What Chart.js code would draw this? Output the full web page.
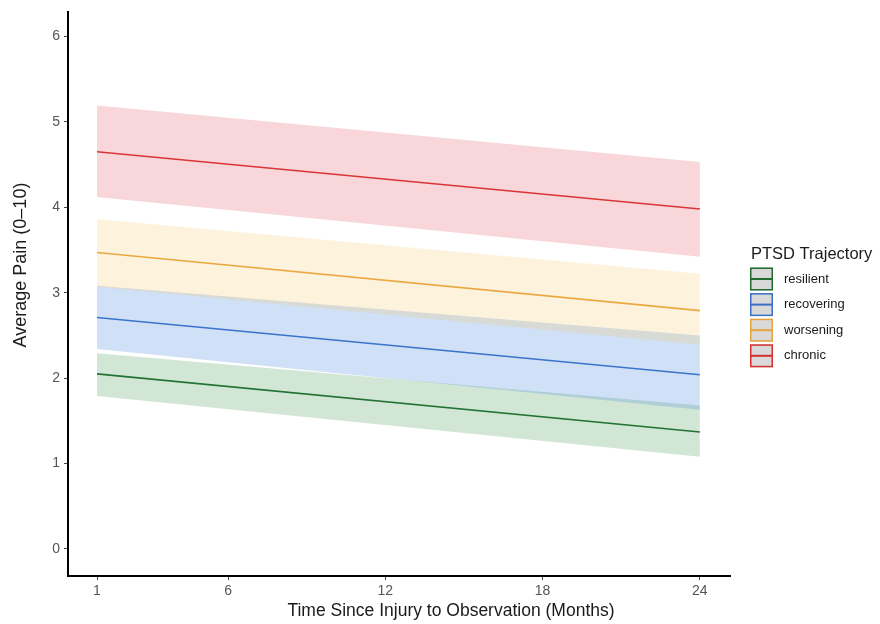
<!DOCTYPE html>
<html>
<head>
<meta charset="utf-8">
<script src="https://cdn.jsdelivr.net/npm/chart.js@4.4.1/dist/chart.umd.min.js"></script>
<style>
  html, body { margin: 0; padding: 0; background: #fff; }
  #wrap { width: 880px; height: 624px; }
</style>
</head>
<body>
<div id="wrap"><canvas id="painChart" width="880" height="624"></canvas></div>
<script>
// months where the fitted lines start and end
const months = [1, 24];
const xTicks = [1, 6, 12, 18, 24];
const yTicks = [0, 1, 2, 3, 4, 5, 6];

// fitted average pain and confidence band per trajectory
const groups = ['resilient', 'recovering', 'worsening', 'chronic'];
const fitValues = {
    resilient:  [2.05, 1.37],
    recovering: [2.71, 2.04],
    worsening:  [3.47, 2.79],
    chronic:    [4.65, 3.98]
};
const lowerValues = {
    resilient:  [1.79, 1.08],
    recovering: [2.34, 1.63],
    worsening:  [3.07, 2.39],
    chronic:    [4.12, 3.42]
};
const upperValues = {
    resilient:  [2.29, 1.68],
    recovering: [3.08, 2.50],
    worsening:  [3.86, 3.22],
    chronic:    [5.19, 4.53]
};

const lineColors = {
    resilient:  '#1f6b30',
    recovering: '#3a6fc4',
    worsening:  '#e8a33d',
    chronic:    '#d62e2e'
};
const bandColors = {
    resilient:  'rgba(50, 140, 70, 0.22)',
    recovering: 'rgba(60, 130, 220, 0.24)',
    worsening:  'rgba(245, 190, 80, 0.2)',
    chronic:    'rgba(231, 76, 90, 0.23)'
};

const toPoints = vals => months.map((m, i) => ({ x: m, y: vals[i] }));

// build datasets: upper edge, lower edge filled to upper, then fitted line
const datasets = [];
['chronic', 'worsening', 'recovering', 'resilient'].forEach(g => {
    datasets.push({
        label: g + ' upper',
        data: toPoints(upperValues[g]),
        borderWidth: 0,
        pointRadius: 0,
        fill: false
    });
    datasets.push({
        label: g + ' lower',
        data: toPoints(lowerValues[g]),
        borderWidth: 0,
        pointRadius: 0,
        backgroundColor: bandColors[g],
        fill: '-1'
    });
});
groups.forEach(g => {
    datasets.push({
        label: g,
        data: toPoints(fitValues[g]),
        borderColor: lineColors[g],
        borderWidth: 1.6,
        pointRadius: 0,
        fill: false
    });
});

const fam = '"Liberation Sans", Arial, sans-serif';

// legend + axis titles drawn by hand to place them like the ggplot original
const extrasPlugin = {
    id: 'extras',
    afterDraw(chart) {
        const ctx = chart.ctx;
        ctx.save();
        ctx.fillStyle = '#1a1a1a';
        ctx.font = '17.5px ' + fam;
        ctx.textAlign = 'center';
        ctx.textBaseline = 'middle';
        ctx.fillText('Time Since Injury to Observation (Months)', 451, 611);

        ctx.save();
        ctx.translate(21, 265);
        ctx.rotate(-Math.PI / 2);
        ctx.font = '18px ' + fam;
        ctx.fillText('Average Pain (0\u201310)', 0, 0);
        ctx.restore();

        ctx.textAlign = 'left';
        ctx.font = '16.5px ' + fam;
        ctx.fillText('PTSD Trajectory', 751, 254);

        ctx.font = '13px ' + fam;
        groups.forEach((g, i) => {
            const cy = 279 + i * 25.6;
            const x0 = 750, w = 23, h = 23;
            ctx.fillStyle = '#d9d9d9';
            ctx.fillRect(x0, cy - h / 2, w, h);
            ctx.strokeStyle = lineColors[g];
            ctx.lineWidth = 1.5;
            ctx.strokeRect(x0 + 0.75, cy - h / 2 + 0.75, w - 1.5, h - 1.5);
            ctx.lineWidth = 2;
            ctx.beginPath();
            ctx.moveTo(x0, cy);
            ctx.lineTo(x0 + w, cy);
            ctx.stroke();
            ctx.fillStyle = '#1a1a1a';
            ctx.fillText(g, 784, cy);
        });
        ctx.restore();
    }
};

const tickFont = { family: fam, size: 14 };

new Chart(document.getElementById('painChart').getContext('2d'), {
    type: 'line',
    data: { datasets: datasets },
    plugins: [extrasPlugin],
    options: {
        responsive: false,
        animation: false,
        layout: { padding: { top: 12, right: 150, left: 0, bottom: 0 } },
        plugins: {
            legend: { display: false },
            tooltip: { enabled: false },
            filler: { propagate: false }
        },
        scales: {
            x: {
                type: 'linear',
                min: -0.107,
                max: 25.15,
                afterBuildTicks: s => { s.ticks = xTicks.map(v => ({ value: v })); },
                afterFit: s => { s.height = 48; },
                border: { color: '#000', width: 2 },
                grid: { display: true, drawOnChartArea: false, drawTicks: true, tickLength: 4, color: '#444' },
                ticks: { color: '#555', font: tickFont, padding: 3, maxRotation: 0 }
            },
            y: {
                type: 'linear',
                min: -0.316,
                max: 6.28,
                afterBuildTicks: s => { s.ticks = yTicks.map(v => ({ value: v })); },
                afterFit: s => { s.width = 68; },
                border: { color: '#000', width: 2 },
                grid: { display: true, drawOnChartArea: false, drawTicks: true, tickLength: 4, color: '#444' },
                ticks: { color: '#555', font: tickFont, padding: 4 }
            }
        }
    }
});
</script>
</body>
</html>
